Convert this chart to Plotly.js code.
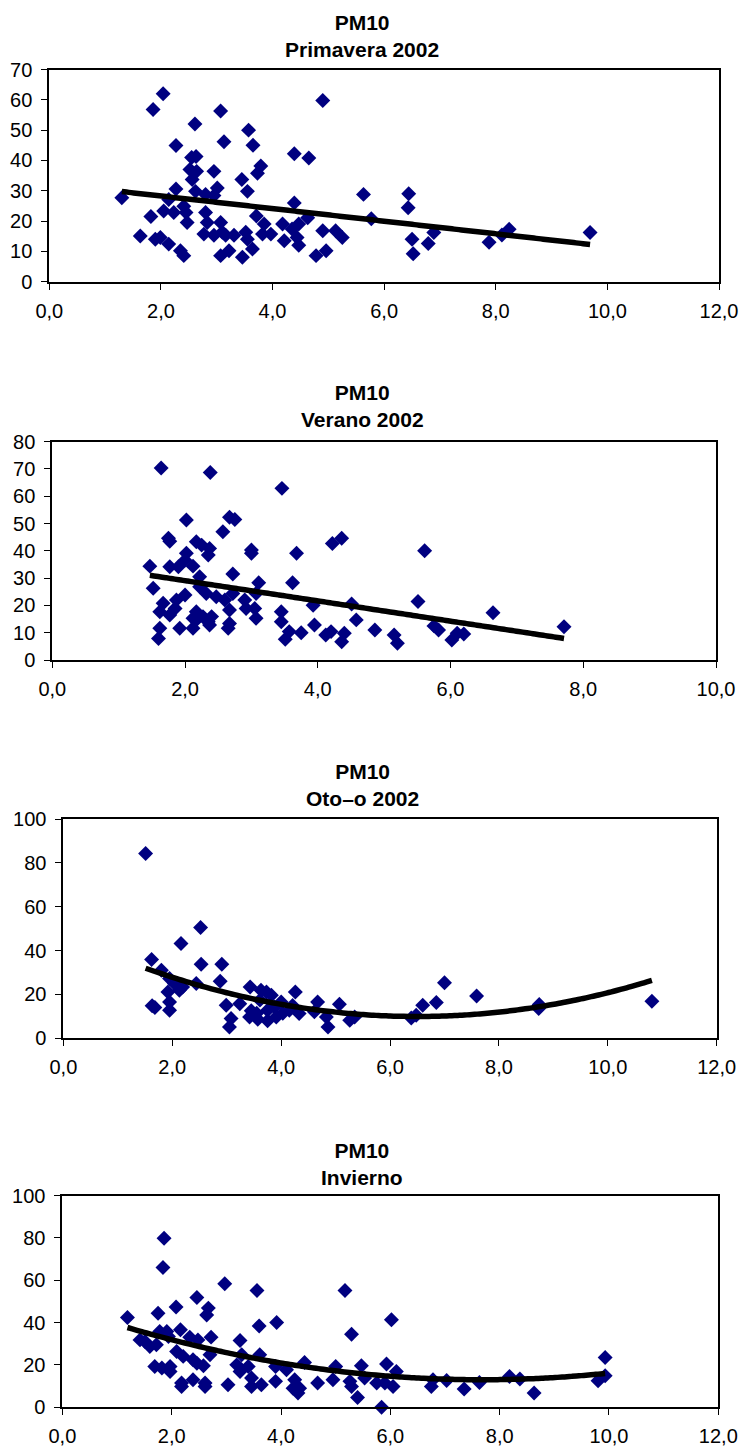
<!DOCTYPE html>
<html>
<head>
<meta charset="utf-8">
<script src="https://cdn.plot.ly/plotly-3.0.1.min.js"></script>
<style>html,body{margin:0;padding:0;background:#fff;}#chart{width:741px;height:1448px;}</style>
</head>
<body>
<div id="chart"></div>
<script>
// ---------- DATA ----------
var titles = ["PM10<br>Primavera 2002", "PM10<br>Verano 2002", "PM10<br>Oto–o 2002", "PM10<br>Invierno"];

var springX = [1.30,2.04,1.86,3.07,4.90,2.61,3.57,2.27,3.13,3.65,4.39,4.65,2.55,2.63,2.52,2.64,2.95,3.79,3.73,2.56,3.45,2.27,2.62,3.01,3.55,2.80,2.95,2.14,2.05,2.23,2.41,2.45,2.80,2.83,3.07,2.47,1.82,4.39,3.71,4.63,5.63,5.77,1.63,1.90,1.99,2.14,2.35,2.41,2.77,2.95,3.10,3.16,3.31,3.07,3.22,3.46,3.52,3.55,3.64,3.85,3.82,3.97,4.18,4.21,4.35,4.47,4.44,4.47,4.78,4.96,4.90,5.13,5.25,6.44,6.43,6.50,6.52,6.79,6.89,7.88,8.11,8.24,9.69];
var springY = [27.7,62,56.8,56.3,59.8,52,50,44.9,46.2,45,42.2,40.8,41,41.3,37,36.4,36.4,38.2,35.8,33.7,33.7,30.6,29.8,30.9,29.8,28.8,28.4,27.1,23.3,22.8,24.9,22.8,22.8,19.5,19.5,19.5,21.5,26,21.7,21.1,28.8,20.8,15.1,14,14.6,12.4,10.2,8.6,15.7,15.3,16.3,15.3,15.3,8.6,10.2,8.1,16.3,14,10.8,19,15.7,15.7,19,13.5,17.4,19,14.6,12,8.6,10.2,16.8,16.8,14.6,29,24.4,14,9.2,12.6,16.2,13,15.4,17.3,16.2];

var summerX = [1.64,2.38,3.46,2.02,2.67,2.75,2.57,1.75,1.77,2.17,2.25,2.37,2.35,3.00,3.00,3.68,4.22,4.36,1.47,1.77,1.90,2.02,2.00,2.12,2.72,2.22,1.52,3.11,3.62,2.22,2.32,2.72,3.07,2.00,1.87,1.67,2.47,2.60,2.90,2.92,3.05,1.62,1.77,1.85,2.17,2.12,2.27,2.40,2.67,3.07,3.45,3.45,3.93,4.51,4.58,1.62,1.60,1.92,2.12,2.17,2.35,2.37,2.67,2.65,3.51,3.57,3.75,3.95,4.12,4.20,4.36,4.40,4.86,5.15,5.20,5.61,5.51,5.75,5.82,6.02,6.10,6.20,6.64,7.71];
var summerY = [70.4,68.7,62.9,51.3,52.3,51.5,47,44.6,43.5,43.3,42.1,40.9,38.5,40.3,39.1,39.1,42.7,44.6,34.4,34.2,34.2,39.1,36.6,34.4,31.5,30.5,26.3,28.3,28.3,26.8,24.4,24.4,24.4,23.8,22,20.8,23.2,22,22,18.9,18.9,17.7,16.5,18.9,17.7,15.3,15.9,15.9,18.3,15.3,17.7,14,20.1,20.5,14.7,11.6,7.9,11.6,11.6,14.7,14,12.8,13.4,11.6,7.6,10.4,10,12.8,9.2,10.4,6.7,9.8,11,9.2,6.1,40,21.4,12.5,11,7.3,9.8,9.5,17.3,12.2];

var autumnX = [1.51,2.52,2.16,1.62,2.53,2.91,1.80,1.95,2.04,2.19,1.92,2.13,2.44,2.88,1.63,1.68,1.95,1.95,2.99,3.08,3.05,3.24,3.43,3.45,3.42,3.57,3.75,3.63,3.73,3.82,3.61,3.75,3.88,3.55,3.91,4.00,4.03,4.15,4.26,4.21,4.33,4.67,4.61,4.83,4.86,5.07,5.26,5.35,6.39,6.48,6.60,6.85,7.00,7.59,8.74,8.73,10.81];
var autumnY = [84.3,50.5,43.2,35.9,33.8,33.8,31,27.3,25,23.4,21.1,21.9,25,26,14.8,14,16.6,12.8,15.1,9,5.2,15.8,23.4,12.6,9.7,8.7,8,21.9,21.1,19.6,17.4,12.8,14.2,11.4,9.7,16.6,11.4,12.8,21.1,15,11.3,16.6,12.1,9.7,5.2,15.5,8.2,9.7,9.3,10.5,15.1,16.3,25.3,19.3,15.4,13.6,16.9];

var winterX = [1.19,1.86,1.84,1.75,2.08,2.46,2.97,3.56,5.17,2.67,2.64,3.60,3.92,6.02,5.29,1.42,1.51,1.60,1.72,1.78,1.91,1.94,2.16,2.33,2.48,2.72,2.09,2.21,2.39,2.46,2.58,2.70,1.69,1.82,1.97,1.97,2.18,2.18,2.39,2.61,2.61,3.03,3.25,3.28,3.19,3.25,3.40,3.46,3.46,3.61,3.64,3.90,3.90,4.10,4.25,4.22,4.34,4.31,4.43,4.67,4.95,5.00,5.26,5.29,5.40,5.47,5.53,5.75,5.84,5.93,5.90,6.05,6.11,6.75,6.78,7.03,7.35,7.63,8.18,8.37,8.63,9.80,9.93,9.93];
var winterY = [42.4,79.8,66,44.4,47.3,51.8,58.3,55.1,55.1,46.8,43.6,38.4,40,41.3,34.5,31.8,31,28.7,29.5,35.8,35.8,33.4,36.6,33.1,31.8,33.1,26.3,24,22.4,20.8,19.6,24.8,19.2,18.5,16.9,19.2,9.8,11.4,13,9.8,11.4,10.6,31.5,24.8,20,16.9,19.2,13.8,9.8,24.8,10.6,19.2,12.2,17.7,13,9,9,6.7,21.1,11.4,13,19.2,12.2,9.8,4.6,19.6,13.8,11.4,0,20.4,11.4,9.8,16.9,9.8,13,12.6,8.6,11.7,14.5,13.3,6.7,12.5,23.5,14.9];

var trendOrder = [1, 1, 2, 2];
var xMax = [12, 10, 12, 12];
var yMax = [70, 80, 100, 100];
var yStep = [10, 10, 20, 20];

// ---------- HELPERS ----------
function polyfit(xs, ys, deg) {
  var n = deg + 1, A = [], b = [];
  for (var i = 0; i < n; i++) {
    A.push([]); b.push(0);
    for (var j = 0; j < n; j++) {
      var s = 0;
      for (var k = 0; k < xs.length; k++) s += Math.pow(xs[k], i + j);
      A[i].push(s);
    }
    for (var k2 = 0; k2 < xs.length; k2++) b[i] += ys[k2] * Math.pow(xs[k2], i);
  }
  for (var c = 0; c < n; c++) {
    var p = c;
    for (var r = c + 1; r < n; r++) if (Math.abs(A[r][c]) > Math.abs(A[p][c])) p = r;
    var t = A[c]; A[c] = A[p]; A[p] = t; var tb = b[c]; b[c] = b[p]; b[p] = tb;
    for (var r2 = c + 1; r2 < n; r2++) {
      var f = A[r2][c] / A[c][c];
      for (var cc = c; cc < n; cc++) A[r2][cc] -= f * A[c][cc];
      b[r2] -= f * b[c];
    }
  }
  var coef = new Array(n);
  for (var i2 = n - 1; i2 >= 0; i2--) {
    var s2 = b[i2];
    for (var j2 = i2 + 1; j2 < n; j2++) s2 -= A[i2][j2] * coef[j2];
    coef[i2] = s2 / A[i2][i2];
  }
  return coef;
}

var sets = [[springX, springY], [summerX, summerY], [autumnX, autumnY], [winterX, winterY]];

// pixel geometry of each plot area [left, right, top, bottom]
var W = 741, H = 1448;
var boxes = [[49.3, 719, 69.5, 281.7], [52.3, 716, 441.7, 660], [63.4, 716.7, 819, 1038.3], [62.4, 718.3, 1195.5, 1407.2]];
var titleY = [35.5, 406, 785, 1164];

var FONT = 'Liberation Sans, Arial, sans-serif';
var TICKSIZE = 20;
var traces = [], layout = {
  width: W, height: H, margin: {l: 0, r: 0, t: 0, b: 0},
  paper_bgcolor: '#fff', plot_bgcolor: '#fff', showlegend: false,
  separators: ',.', font: {family: FONT, color: '#000', size: TICKSIZE},
  annotations: []
};

sets.forEach(function (s, i) {
  var sfx = i === 0 ? '' : String(i + 1);
  var xs = s[0], ys = s[1];
  traces.push({
    x: xs, y: ys, type: 'scatter', mode: 'markers', xaxis: 'x' + sfx, yaxis: 'y' + sfx,
    marker: {symbol: 'diamond', size: 11.5, color: '#000080', line: {width: 0}},
    cliponaxis: false, hoverinfo: 'skip'
  });
  var coef = polyfit(xs, ys, trendOrder[i]);
  var lo = Math.min.apply(null, xs), hi = Math.max.apply(null, xs);
  var tx = [], ty = [];
  for (var k = 0; k <= 100; k++) {
    var xv = lo + (hi - lo) * k / 100, yv = 0;
    for (var d = 0; d < coef.length; d++) yv += coef[d] * Math.pow(xv, d);
    tx.push(xv); ty.push(yv);
  }
  traces.push({
    x: tx, y: ty, type: 'scatter', mode: 'lines', xaxis: 'x' + sfx, yaxis: 'y' + sfx,
    line: {color: '#000', width: 5.5, shape: 'spline'}, hoverinfo: 'skip'
  });
  var b = boxes[i];
  layout['xaxis' + sfx] = {
    domain: [b[0] / W, b[1] / W], anchor: 'y' + sfx, range: [0, xMax[i]],
    dtick: 2, tick0: 0, tickformat: '.1f', showgrid: false, zeroline: false,
    showline: true, linecolor: '#000', linewidth: 2, mirror: true,
    ticks: 'outside', ticklen: 6, tickwidth: 1, tickcolor: '#000',
    ticklabelstandoff: 4, tickfont: {family: FONT, size: TICKSIZE, color: '#000'}, fixedrange: true
  };
  layout['yaxis' + sfx] = {
    domain: [1 - b[3] / H, 1 - b[2] / H], anchor: 'x' + sfx, range: [0, yMax[i]],
    dtick: yStep[i], tick0: 0, showgrid: false, zeroline: false,
    showline: true, linecolor: '#000', linewidth: 2, mirror: true,
    ticks: 'outside', ticklen: 6, tickwidth: 1, tickcolor: '#000',
    ticklabelstandoff: 5, tickfont: {family: FONT, size: TICKSIZE, color: '#000'}, fixedrange: true
  };
  layout.annotations.push({
    text: '<b>' + titles[i] + '</b>', xref: 'paper', yref: 'paper',
    x: 362 / W, y: 1 - titleY[i] / H, xanchor: 'center', yanchor: 'middle',
    showarrow: false, font: {family: FONT, size: 21, color: '#000'}
  });
});

Plotly.newPlot('chart', traces, layout, {staticPlot: true, displayModeBar: false});
</script>
</body>
</html>
